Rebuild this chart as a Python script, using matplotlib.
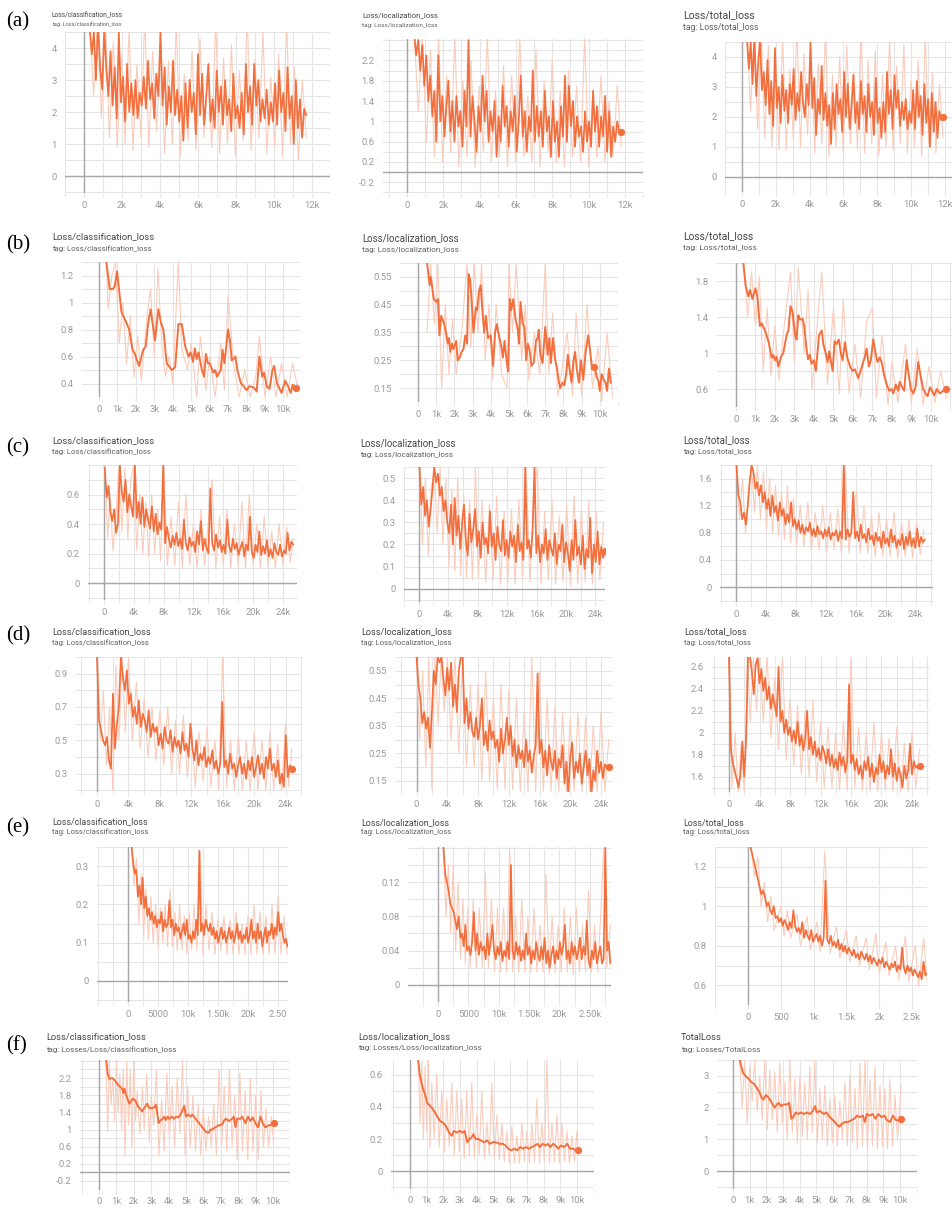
import numpy as np
import matplotlib.pyplot as plt
from matplotlib.ticker import MultipleLocator

plt.rcParams["font.family"] = ["Roboto", "DejaVu Sans"]

# ---------------- data ----------------
# dense panels: first/last logged step + values at evenly logged steps
a1_span = (300, 11700)
a1_loss = [4.6, 3.8, 4.5, 3.0, 4.8, 3.4, 2.7, 4.6, 3.3,
           2.5, 3.9, 2.2, 3.4, 1.8, 4.5, 2.3, 3.1, 1.7,
           3.5, 2.0, 2.9, 1.9, 3.0, 1.8, 2.6, 2.2, 3.1,
           2.1, 3.6, 2.4, 2.9, 1.8, 3.2, 2.5, 4.5, 2.2,
           3.4, 1.6, 2.8, 2.0, 3.6, 1.9, 2.7, 1.7, 2.5,
           1.1, 2.9, 1.5, 3.0, 2.0, 2.6, 1.3, 3.8, 1.9,
           3.2, 1.6, 2.5, 3.5, 1.7, 2.4, 1.5, 3.3, 2.0,
           2.8, 1.6, 3.0, 1.9, 2.4, 1.4, 3.2, 1.8, 2.2,
           1.5, 2.6, 1.3, 3.5, 2.0, 2.8, 1.6, 3.5, 2.2,
           3.0, 1.7, 2.4, 1.8, 2.7, 1.6, 2.3, 1.7, 2.9,
           1.6, 3.3, 2.0, 2.6, 1.4, 3.4, 1.8, 2.5, 1.0,
           3.0, 1.5, 2.4, 1.2, 2.1, 1.9]
a1_raw = [5.0, 2.5, 4.8, 1.8, 5.0, 1.2, 4.2, 0.9, 3.8, 1.0, 4.6, 0.8, 3.5, 1.2,
          5.0, 0.9, 3.9, 1.4, 4.4, 0.7, 3.6, 1.0, 4.8, 0.6, 3.2, 1.1, 3.9, 0.8,
          4.3, 1.2, 3.4, 0.9, 4.9, 0.7, 3.7, 1.0, 4.1, 0.6, 3.3, 1.1, 5.0, 0.8,
          3.6, 1.2, 4.5, 0.7, 3.1, 0.9, 3.8, 0.6, 4.9, 1.0, 3.4, 0.5, 3.0, 1.2]

a2_span = (400, 11800)
a2_loss = [2.7, 2.3, 2.6, 2.0, 2.5, 1.7, 2.3, 1.4,
           1.9, 1.1, 1.6, 0.6, 2.3, 1.0, 1.5, 0.7, 1.3,
           1.8, 0.8, 1.4, 0.6, 1.5, 0.9, 1.2, 0.5, 1.6,
           0.9, 2.6, 0.7, 1.5, 1.0, 0.4, 1.3, 0.8, 1.9,
           1.0, 1.6, 0.6, 1.2, 0.8, 1.4, 0.3, 1.1, 0.6,
           1.7, 0.9, 1.3, 0.5, 1.2, 0.8, 1.5, 0.4, 1.0,
           1.9, 0.7, 1.2, 0.4, 1.1, 0.8, 2.0, 0.6, 1.3,
           0.7, 1.2, 0.5, 1.6, 0.8, 1.1, 0.3, 1.4, 0.6,
           1.0, 0.3, 1.3, 0.7, 1.9, 0.6, 1.7, 0.9, 1.4,
           0.5, 1.1, 0.7, 0.9, 0.4, 1.2, 0.6, 1.0, 0.5,
           1.6, 0.8, 1.3, 0.5, 1.1, 0.7, 1.5, 0.4, 1.2,
           0.3, 0.9, 0.6, 1.0, 0.8, 0.8]
a2_raw = [2.7, 1.2, 2.7, 0.6, 2.4, 0.3, 2.7, 0.2, 1.9, 0.4, 2.7, 0.1, 1.8, 0.3,
          2.2, 0.1, 1.7, 0.4, 2.7, 0.2, 1.6, 0.3, 2.1, 0.1, 1.9, 0.2, 2.7, 0.3,
          1.5, 0.2, 2.4, 0.1, 1.8, 0.4, 2.2, 0.2, 1.6, 0.1, 2.0, 0.3, 1.7, 0.2,
          2.7, 0.1, 1.5, 0.3, 1.9, 0.2, 1.4, 0.3, 1.7, 0.5]

a3_span = (300, 11900)
a3_loss = [4.6, 3.6, 4.5, 3.1, 4.7, 2.7, 3.8, 4.6, 2.9,
           3.5, 2.4, 3.9, 2.1, 3.2, 1.7, 4.3, 2.3, 3.0,
           1.8, 3.4, 2.2, 2.9, 1.8, 3.1, 2.4, 3.6, 1.9,
           2.8, 2.2, 3.5, 2.5, 2.0, 3.1, 2.4, 4.5, 2.3,
           3.3, 1.4, 2.6, 2.1, 3.7, 1.9, 2.8, 1.7, 2.4,
           1.1, 2.8, 1.6, 3.1, 2.1, 2.6, 1.5, 3.5, 2.0,
           3.1, 1.6, 2.4, 3.4, 1.8, 2.5, 1.6, 3.2, 2.1,
           2.7, 1.5, 3.1, 2.0, 2.5, 1.4, 3.3, 1.8, 2.3,
           1.3, 2.5, 1.5, 3.5, 2.1, 2.9, 1.6, 3.4, 2.3,
           2.9, 1.7, 2.5, 1.9, 2.6, 1.6, 2.2, 1.8, 2.9,
           1.6, 3.2, 2.0, 2.7, 1.4, 3.1, 1.8, 2.6, 1.0,
           2.8, 1.5, 2.5, 1.3, 2.2, 1.9, 2.0]
a3_raw = [5.0, 2.2, 4.9, 1.6, 5.0, 1.3, 4.4, 1.0, 4.0, 0.9, 4.7, 0.9, 3.6, 1.3,
          5.0, 1.0, 4.1, 1.4, 4.3, 0.8, 3.8, 1.1, 4.9, 0.7, 3.4, 1.0, 4.0, 0.8,
          4.4, 1.1, 3.5, 0.9, 5.0, 0.8, 3.9, 1.1, 4.2, 0.7, 3.4, 1.0, 4.6, 0.9,
          3.7, 1.1, 4.4, 0.8, 3.2, 1.0, 3.9, 0.7, 4.7, 1.1, 3.5, 0.8, 3.1, 1.3]

# smoother panels: (step, value) pairs
b1_loss = [(400, 1.30), (580, 1.10), (760, 1.10), (850, 1.12), (980, 1.23), (1220, 0.93),
           (1490, 0.85), (1640, 0.80), (1820, 0.65), (1950, 0.62), (2040, 0.58), (2180, 0.53),
           (2400, 0.65), (2530, 0.67), (2670, 0.85), (2800, 0.95), (3040, 0.72), (3220, 0.95),
           (3360, 0.85), (3490, 0.80), (3670, 0.55), (3950, 0.50), (4130, 0.52), (4310, 0.84),
           (4490, 0.84), (4670, 0.68), (4850, 0.60), (4970, 0.63), (5100, 0.56), (5200, 0.66),
           (5300, 0.58), (5400, 0.63), (5580, 0.50), (5700, 0.45), (5800, 0.62), (5900, 0.55),
           (6000, 0.55), (6200, 0.48), (6300, 0.50), (6400, 0.45), (6600, 0.50), (6700, 0.65),
           (6800, 0.55), (7000, 0.80), (7100, 0.72), (7200, 0.57), (7400, 0.60), (7500, 0.50),
           (7700, 0.40), (7850, 0.38), (8000, 0.35), (8150, 0.38), (8400, 0.37), (8550, 0.34),
           (8700, 0.60), (8850, 0.45), (8950, 0.48), (9100, 0.38), (9250, 0.36), (9400, 0.50),
           (9500, 0.53), (9650, 0.40), (9800, 0.36), (9900, 0.33), (10100, 0.42), (10250, 0.38),
           (10400, 0.33), (10500, 0.39), (10700, 0.37)]
b1_raw = [(400, 1.30), (500, 0.95), (700, 1.20), (900, 1.30), (1100, 0.70), (1300, 1.00),
          (1500, 0.55), (1700, 0.90), (1900, 0.45), (2100, 0.75), (2300, 0.42), (2600, 0.90),
          (2800, 1.10), (3000, 0.60), (3200, 1.25), (3400, 0.70), (3600, 0.45), (3800, 0.60),
          (4000, 0.40), (4300, 1.30), (4500, 0.65), (4800, 0.50), (5000, 0.70), (5300, 0.30),
          (5500, 0.75), (5800, 0.35), (6000, 0.60), (6300, 0.30), (6600, 0.70), (6800, 0.35),
          (7000, 1.05), (7300, 0.55), (7600, 0.30), (7900, 0.50), (8200, 0.30), (8500, 0.45),
          (8700, 0.75), (9000, 0.30), (9300, 0.60), (9600, 0.30), (9900, 0.55), (10200, 0.30),
          (10500, 0.55), (10800, 0.35)]

b2_loss = [(500, 0.60), (640, 0.52), (700, 0.55), (870, 0.47), (1000, 0.46), (1100, 0.47),
           (1180, 0.34), (1270, 0.41), (1450, 0.38), (1640, 0.31), (1700, 0.33), (1780, 0.28),
           (1870, 0.31), (1950, 0.29), (2100, 0.32), (2180, 0.25), (2300, 0.26), (2400, 0.28),
           (2500, 0.29), (2600, 0.34), (2700, 0.31), (2780, 0.56), (2870, 0.54), (2960, 0.45),
           (3050, 0.35), (3180, 0.44), (3250, 0.43), (3360, 0.50), (3450, 0.52), (3550, 0.42),
           (3640, 0.35), (3730, 0.41), (3850, 0.33), (4000, 0.34), (4130, 0.23), (4240, 0.35),
           (4330, 0.38), (4450, 0.34), (4580, 0.30), (4670, 0.26), (4760, 0.32), (4870, 0.25),
           (4960, 0.21), (5050, 0.47), (5130, 0.43), (5240, 0.47), (5360, 0.40), (5490, 0.36),
           (5550, 0.31), (5640, 0.46), (5760, 0.38), (5850, 0.37), (5950, 0.25), (6040, 0.31),
           (6130, 0.29), (6240, 0.23), (6360, 0.24), (6490, 0.32), (6580, 0.33), (6640, 0.36),
           (6730, 0.27), (6850, 0.24), (7000, 0.37), (7130, 0.27), (7220, 0.33), (7310, 0.24),
           (7420, 0.33), (7550, 0.25), (7650, 0.22), (7730, 0.18), (7820, 0.15), (7950, 0.17),
           (8050, 0.16), (8150, 0.20), (8240, 0.27), (8330, 0.22), (8450, 0.17), (8550, 0.25),
           (8640, 0.28), (8730, 0.22), (8850, 0.17), (8960, 0.25), (9090, 0.18), (9220, 0.28),
           (9360, 0.34), (9490, 0.27), (9580, 0.22), (9730, 0.23), (9820, 0.19), (9910, 0.18),
           (10000, 0.14), (10100, 0.20), (10220, 0.18), (10310, 0.17), (10400, 0.14),
           (10500, 0.22), (10600, 0.17)]
b2_raw = [(500, 0.35), (700, 0.60), (900, 0.38), (1100, 0.60), (1300, 0.15), (1500, 0.45),
          (1700, 0.20), (1900, 0.40), (2100, 0.20), (2400, 0.35), (2700, 0.60), (2900, 0.30),
          (3100, 0.60), (3300, 0.35), (3500, 0.60), (3700, 0.25), (3900, 0.45), (4100, 0.18),
          (4300, 0.45), (4600, 0.20), (4900, 0.15), (5000, 0.60), (5200, 0.35), (5400, 0.60),
          (5700, 0.25), (5900, 0.45), (6100, 0.18), (6400, 0.35), (6700, 0.20), (7000, 0.60),
          (7200, 0.20), (7400, 0.42), (7700, 0.12), (8000, 0.25), (8200, 0.35), (8500, 0.12),
          (8700, 0.42), (9000, 0.12), (9300, 0.45), (9600, 0.15), (9900, 0.30), (10100, 0.10),
          (10400, 0.35), (10700, 0.12)]
b2_hover = (9700, 0.225)

b3_loss = [(380, 2.00), (500, 1.75), (630, 1.63), (720, 1.70), (850, 1.60), (1000, 1.72),
           (1100, 1.63), (1230, 1.30), (1320, 1.33), (1450, 1.27), (1570, 1.20), (1700, 1.10),
           (1830, 0.95), (1910, 0.98), (2000, 0.92), (2080, 0.96), (2170, 0.85), (2300, 0.95),
           (2430, 1.00), (2600, 1.20), (2690, 1.25), (2800, 1.52), (2910, 1.45), (3030, 1.20),
           (3110, 1.15), (3200, 1.42), (3280, 1.37), (3420, 1.38), (3500, 1.30), (3620, 1.05),
           (3700, 0.93), (3790, 0.98), (3880, 0.88), (4000, 0.92), (4100, 0.80), (4260, 1.20),
           (4400, 1.25), (4480, 1.10), (4600, 1.00), (4700, 0.90), (4790, 1.02), (4860, 0.92),
           (4960, 0.80), (5060, 1.13), (5170, 1.10), (5280, 1.15), (5380, 1.00), (5470, 0.92),
           (5590, 1.12), (5710, 0.95), (5850, 0.85), (5980, 0.80), (6100, 0.82), (6270, 0.72),
           (6360, 0.78), (6530, 0.90), (6610, 0.95), (6700, 1.05), (6820, 0.85), (6920, 0.92),
           (7040, 1.15), (7160, 1.00), (7260, 0.90), (7380, 0.95), (7470, 0.90), (7600, 0.75),
           (7730, 0.65), (7860, 0.58), (7980, 0.60), (8070, 0.55), (8200, 0.65), (8320, 0.58),
           (8400, 0.68), (8520, 0.62), (8630, 0.58), (8750, 0.92), (8870, 0.75), (8970, 0.60),
           (9100, 0.55), (9210, 0.62), (9350, 0.90), (9470, 0.75), (9600, 0.60), (9730, 0.55),
           (9830, 0.52), (9950, 0.62), (10070, 0.57), (10170, 0.53), (10300, 0.60),
           (10460, 0.55), (10630, 0.58), (10770, 0.60)]
b3_raw = [(400, 2.00), (600, 1.40), (800, 1.90), (1000, 1.30), (1200, 1.85), (1400, 0.80),
          (1600, 1.50), (1800, 0.75), (2000, 1.30), (2200, 0.70), (2500, 1.35), (2800, 1.90),
          (3000, 0.90), (3200, 1.95), (3500, 1.00), (3700, 1.70), (3900, 0.60), (4200, 1.40),
          (4400, 1.90), (4700, 0.65), (5000, 1.50), (5300, 0.55), (5500, 1.60), (5800, 0.55),
          (6100, 1.10), (6400, 0.50), (6700, 1.35), (7000, 1.50), (7200, 0.50), (7500, 1.20),
          (7800, 0.42), (8000, 0.90), (8300, 0.45), (8700, 1.10), (9000, 0.45), (9300, 1.05),
          (9600, 0.42), (9900, 0.85), (10200, 0.45), (10500, 0.80), (10800, 0.50)]

c1_span = (100, 25400)
c1_loss = [0.78, 0.58, 0.66, 0.48, 0.42, 0.50, 0.34, 0.40,
           0.80, 0.62, 0.55, 0.70, 0.48, 0.60, 0.52, 0.45,
           0.80, 0.44, 0.55, 0.40, 0.58, 0.38, 0.50, 0.43,
           0.37, 0.52, 0.35, 0.47, 0.33, 0.41, 0.36, 0.80,
           0.27, 0.38, 0.30, 0.24, 0.32, 0.26, 0.34, 0.25,
           0.30, 0.23, 0.43, 0.27, 0.22, 0.31, 0.25, 0.28,
           0.21, 0.35, 0.26, 0.42, 0.22, 0.30, 0.24, 0.20,
           0.64, 0.27, 0.22, 0.33, 0.24, 0.29, 0.21, 0.26,
           0.20, 0.43, 0.25, 0.21, 0.30, 0.23, 0.27, 0.19,
           0.24, 0.28, 0.18, 0.26, 0.22, 0.45, 0.21, 0.17,
           0.26, 0.21, 0.35, 0.19, 0.25, 0.20, 0.29, 0.18,
           0.23, 0.17, 0.27, 0.21, 0.19, 0.26, 0.18, 0.22,
           0.20, 0.34, 0.22, 0.28, 0.26]
c1_raw = [(100, 0.80), (500, 0.30), (800, 0.60), (1200, 0.22), (1600, 0.45), (2000, 0.80),
          (2400, 0.35), (2800, 0.78), (3200, 0.30), (3600, 0.70), (4000, 0.80), (4400, 0.22),
          (4800, 0.60), (5200, 0.20), (5600, 0.55), (6000, 0.18), (6400, 0.60), (6800, 0.20),
          (7200, 0.50), (7600, 0.15), (8000, 0.80), (8500, 0.12), (9000, 0.45), (9500, 0.12),
          (10000, 0.55), (10500, 0.10), (11000, 0.60), (11500, 0.12), (12000, 0.40),
          (12500, 0.10), (13000, 0.50), (13500, 0.12), (14000, 0.42), (14500, 0.70),
          (15000, 0.10), (15500, 0.45), (16000, 0.12), (16500, 0.50), (17000, 0.10),
          (17500, 0.40), (18000, 0.12), (18500, 0.55), (19000, 0.10), (19500, 0.60),
          (20000, 0.12), (20500, 0.40), (21000, 0.10), (21500, 0.45), (22000, 0.12),
          (22500, 0.35), (23000, 0.10), (23500, 0.40), (24000, 0.12), (24500, 0.38),
          (25000, 0.14), (25400, 0.30)]

c2_span = (100, 25300)
c2_loss = [0.55, 0.38, 0.46, 0.33, 0.40, 0.28, 0.36, 0.45,
           0.55, 0.48, 0.52, 0.42, 0.46, 0.35, 0.40, 0.30,
           0.25, 0.38, 0.20, 0.41, 0.24, 0.33, 0.18, 0.30,
           0.38, 0.22, 0.15, 0.34, 0.21, 0.27, 0.36, 0.19,
           0.26, 0.14, 0.30, 0.20, 0.23, 0.16, 0.35, 0.19,
           0.25, 0.13, 0.28, 0.20, 0.17, 0.31, 0.15, 0.22,
           0.14, 0.26, 0.19, 0.24, 0.12, 0.29, 0.17, 0.21,
           0.13, 0.55, 0.18, 0.22, 0.14, 0.27, 0.55, 0.16,
           0.24, 0.12, 0.20, 0.16, 0.27, 0.13, 0.22, 0.18,
           0.15, 0.25, 0.11, 0.20, 0.17, 0.29, 0.12, 0.21,
           0.16, 0.08, 0.22, 0.13, 0.31, 0.15, 0.19, 0.11,
           0.24, 0.09, 0.18, 0.14, 0.32, 0.07, 0.20, 0.12,
           0.26, 0.11, 0.19, 0.14, 0.17]
c2_raw = [(100, 0.55), (500, 0.20), (900, 0.50), (1300, 0.15), (1700, 0.45), (2100, 0.55),
          (2500, 0.25), (2900, 0.55), (3300, 0.20), (3700, 0.50), (4100, 0.10), (4500, 0.45),
          (4900, 0.08), (5300, 0.50), (5700, 0.06), (6100, 0.42), (6500, 0.05), (6900, 0.40),
          (7300, 0.04), (7700, 0.55), (8100, 0.05), (8600, 0.40), (9100, 0.03), (9600, 0.38),
          (10100, 0.04), (10600, 0.42), (11100, 0.02), (11600, 0.35), (12100, 0.03),
          (12600, 0.36), (13100, 0.02), (13600, 0.40), (14100, 0.04), (14600, 0.55),
          (15100, 0.03), (15600, 0.38), (16100, 0.55), (16600, 0.02), (17100, 0.35),
          (17600, 0.04), (18100, 0.40), (18600, 0.02), (19100, 0.33), (19600, 0.03),
          (20100, 0.38), (20600, 0.01), (21100, 0.42), (21600, 0.02), (22100, 0.36),
          (22600, 0.03), (23100, 0.40), (23600, 0.02), (24100, 0.35), (24600, 0.04),
          (25100, 0.30)]

c3_span = (100, 25200)
c3_loss = [1.80, 1.35, 1.25, 1.00, 1.10, 0.92, 1.20, 1.55,
           1.80, 1.70, 1.45, 1.55, 1.35, 1.50, 1.25, 1.40,
           1.15, 1.30, 1.05, 1.35, 1.10, 1.20, 0.98, 1.25,
           1.05, 1.15, 0.92, 1.08, 0.95, 1.25, 0.90, 1.00,
           0.85, 0.98, 0.80, 0.92, 0.78, 0.88, 0.82, 0.95,
           0.76, 0.86, 0.74, 0.90, 0.78, 0.82, 0.72, 0.85,
           0.75, 0.88, 0.70, 0.80, 0.76, 0.84, 0.68, 0.82,
           0.72, 1.80, 0.70, 0.85, 0.74, 0.80, 1.40, 0.72,
           0.82, 0.68, 0.92, 0.72, 0.78, 0.66, 0.86, 0.70,
           0.76, 0.62, 0.80, 0.68, 0.74, 0.58, 0.82, 0.64,
           0.72, 0.60, 0.85, 0.66, 0.76, 0.58, 0.70, 0.62,
           0.78, 0.56, 0.74, 0.62, 0.82, 0.60, 0.72, 0.58,
           0.86, 0.60, 0.74, 0.66, 0.70]
c3_raw = [(100, 1.80), (500, 1.00), (900, 1.60), (1300, 0.80), (1700, 1.40), (2100, 1.80),
          (2500, 1.10), (2900, 1.80), (3300, 1.00), (3700, 1.70), (4100, 0.85), (4500, 1.60),
          (4900, 0.80), (5300, 1.50), (5700, 0.75), (6100, 1.40), (6500, 0.70), (6900, 1.50),
          (7300, 0.65), (7700, 1.30), (8100, 0.60), (8600, 1.20), (9100, 0.60), (9600, 1.25),
          (10100, 0.55), (10600, 1.10), (11100, 0.55), (11600, 1.20), (12100, 0.50),
          (12600, 1.10), (13100, 0.55), (13600, 1.15), (14100, 0.50), (14600, 1.80),
          (15100, 0.50), (15600, 1.10), (16100, 1.40), (16600, 0.50), (17100, 1.20),
          (17600, 0.50), (18100, 1.05), (18600, 0.45), (19100, 1.10), (19600, 0.45),
          (20100, 1.00), (20600, 0.45), (21100, 1.10), (21600, 0.42), (22100, 0.95),
          (22600, 0.45), (23100, 1.00), (23600, 0.42), (24100, 0.95), (24600, 0.48),
          (25100, 0.85)]

d1_span = (0, 24800)
d1_loss = [1.00, 0.62, 0.56, 0.50, 0.47, 0.52, 0.38, 0.33,
           0.78, 0.45, 0.60, 0.70, 1.00, 0.88, 0.80, 0.92,
           0.72, 0.78, 0.64, 0.70, 0.60, 0.74, 0.58, 0.66,
           0.62, 0.55, 0.68, 0.52, 0.60, 0.55, 0.58, 0.47,
           0.54, 0.45, 0.58, 0.50, 0.48, 0.56, 0.43, 0.52,
           0.46, 0.50, 0.42, 0.55, 0.44, 0.48, 0.40, 0.60,
           0.45, 0.38, 0.50, 0.35, 0.42, 0.38, 0.46, 0.34,
           0.40, 0.36, 0.44, 0.33, 0.38, 0.30, 0.36, 0.73,
           0.34, 0.38, 0.30, 0.42, 0.33, 0.36, 0.28, 0.35,
           0.40, 0.30, 0.36, 0.27, 0.38, 0.32, 0.40, 0.28,
           0.34, 0.41, 0.30, 0.36, 0.27, 0.40, 0.33, 0.45,
           0.32, 0.36, 0.28, 0.38, 0.24, 0.30, 0.22, 0.53,
           0.28, 0.35, 0.33]
d1_raw = [(0, 1.00), (400, 0.50), (800, 0.80), (1200, 0.35), (1600, 0.70), (2000, 0.20),
          (2400, 0.95), (2800, 0.50), (3200, 1.00), (3600, 0.55), (4000, 1.00), (4500, 0.50),
          (5000, 0.85), (5500, 0.45), (6000, 0.75), (6500, 0.40), (7000, 0.70), (7500, 0.38),
          (8000, 0.68), (8500, 0.35), (9000, 0.70), (9500, 0.30), (10000, 0.62), (10500, 0.30),
          (11000, 0.65), (11500, 0.28), (12000, 0.60), (12500, 0.22), (13000, 0.55),
          (13500, 0.25), (14000, 0.58), (14500, 0.22), (15000, 0.50), (15500, 0.20),
          (16000, 1.00), (16500, 0.22), (17000, 0.50), (17500, 0.20), (18000, 0.52),
          (18500, 0.20), (19000, 0.50), (19500, 0.20), (20000, 0.55), (20500, 0.20),
          (21000, 0.50), (21500, 0.20), (22000, 0.55), (22500, 0.20), (23000, 0.48),
          (23500, 0.20), (24000, 0.60), (24400, 0.22), (24800, 0.45)]

d2_span = (0, 25000)
d2_loss = [0.60, 0.50, 0.45, 0.36, 0.40, 0.34, 0.38, 0.27,
           0.40, 0.55, 0.50, 0.60, 0.58, 0.60, 0.52, 0.46,
           0.56, 0.48, 0.58, 0.42, 0.50, 0.40, 0.55, 0.60,
           0.60, 0.36, 0.45, 0.34, 0.40, 0.33, 0.31, 0.38,
           0.30, 0.35, 0.45, 0.28, 0.33, 0.26, 0.37, 0.30,
           0.33, 0.27, 0.30, 0.22, 0.34, 0.25, 0.30, 0.38,
           0.28, 0.35, 0.24, 0.30, 0.20, 0.28, 0.23, 0.26,
           0.20, 0.30, 0.22, 0.26, 0.18, 0.24, 0.28, 0.54,
           0.25, 0.30, 0.20, 0.26, 0.17, 0.28, 0.22, 0.19,
           0.26, 0.16, 0.23, 0.20, 0.28, 0.14, 0.22, 0.10,
           0.24, 0.29, 0.16, 0.22, 0.18, 0.25, 0.14, 0.20,
           0.26, 0.17, 0.23, 0.10, 0.19, 0.15, 0.26, 0.18,
           0.22, 0.16, 0.21, 0.20, 0.20]
d2_raw = [(0, 0.60), (400, 0.30), (800, 0.55), (1200, 0.20), (1600, 0.60), (2000, 0.12),
          (2400, 0.60), (2800, 0.35), (3200, 0.60), (3600, 0.40), (4000, 0.60), (4500, 0.30),
          (5000, 0.60), (5500, 0.25), (6000, 0.60), (6500, 0.20), (7000, 0.50), (7500, 0.20),
          (8000, 0.50), (8500, 0.15), (9000, 0.55), (9500, 0.15), (10000, 0.45), (10500, 0.12),
          (11000, 0.50), (11500, 0.12), (12000, 0.48), (12500, 0.12), (13000, 0.45),
          (13500, 0.11), (14000, 0.40), (14500, 0.11), (15000, 0.60), (15500, 0.11),
          (16000, 0.55), (16500, 0.11), (17000, 0.45), (17500, 0.11), (18000, 0.42),
          (18500, 0.11), (19000, 0.40), (19500, 0.11), (20000, 0.38), (20500, 0.11),
          (21000, 0.40), (21500, 0.11), (22000, 0.38), (22500, 0.11), (23000, 0.35),
          (23500, 0.11), (24000, 0.40), (24500, 0.11), (25000, 0.30)]

d3_span = (0, 25000)
d3_loss = [2.70, 1.85, 1.72, 1.65, 1.58, 1.50, 1.62, 1.92,
           1.60, 1.95, 2.70, 2.70, 2.55, 2.35, 2.62, 2.68,
           2.45, 2.58, 2.38, 2.50, 2.30, 2.42, 2.22, 2.35,
           2.25, 2.15, 2.60, 2.10, 2.20, 2.00, 2.12, 1.98,
           2.05, 1.92, 2.02, 1.90, 2.10, 1.88, 1.98, 1.84,
           1.95, 2.20, 1.85, 1.96, 1.80, 1.92, 1.78, 1.86,
           1.75, 1.88, 1.82, 1.72, 1.85, 1.70, 1.80, 1.68,
           1.76, 1.66, 1.82, 1.70, 1.78, 1.64, 1.74, 2.44,
           1.72, 1.80, 1.66, 1.76, 1.62, 1.70, 1.58, 1.74,
           1.66, 1.78, 1.60, 1.72, 1.55, 1.68, 1.62, 1.80,
           1.64, 1.74, 1.58, 1.70, 1.62, 1.85, 1.60, 1.72,
           1.56, 1.68, 1.62, 1.50, 1.70, 1.58, 1.66, 1.90,
           1.62, 1.74, 1.68, 1.70, 1.70]
d3_raw = [(0, 2.70), (400, 1.50), (800, 2.00), (1200, 1.46), (1600, 1.90), (2000, 1.46),
          (2400, 2.70), (2800, 2.10), (3200, 2.70), (3600, 2.20), (4000, 2.70), (4500, 2.10),
          (5000, 2.70), (5500, 1.95), (6000, 2.50), (6500, 1.85), (7000, 2.70), (7500, 1.75),
          (8000, 2.30), (8500, 1.70), (9000, 2.25), (9500, 1.62), (10000, 2.20), (10500, 1.60),
          (11000, 2.30), (11500, 1.55), (12000, 2.10), (12500, 1.50), (13000, 2.05),
          (13500, 1.50), (14000, 2.00), (14500, 1.48), (15000, 2.10), (15500, 1.47),
          (16000, 2.70), (16500, 1.50), (17000, 2.05), (17500, 1.47), (18000, 2.00),
          (18500, 1.47), (19000, 2.10), (19500, 1.47), (20000, 2.00), (20500, 1.47),
          (21000, 1.95), (21500, 1.46), (22000, 2.05), (22500, 1.46), (23000, 1.90),
          (23500, 1.46), (24000, 2.00), (24500, 1.50), (25000, 1.85)]

e1_span = (600, 26600)
e1_loss = [0.35, 0.31, 0.28, 0.29, 0.22, 0.25, 0.20, 0.27,
           0.19, 0.22, 0.17, 0.19, 0.16, 0.18, 0.15, 0.17,
           0.14, 0.16, 0.15, 0.18, 0.13, 0.16, 0.14, 0.15,
           0.21, 0.14, 0.16, 0.12, 0.15, 0.13, 0.14, 0.11,
           0.13, 0.15, 0.12, 0.16, 0.11, 0.12, 0.10, 0.13,
           0.11, 0.16, 0.12, 0.34, 0.13, 0.15, 0.12, 0.16,
           0.14, 0.13, 0.15, 0.12, 0.14, 0.11, 0.13, 0.10,
           0.12, 0.14, 0.11, 0.13, 0.10, 0.12, 0.14, 0.11,
           0.13, 0.10, 0.12, 0.15, 0.11, 0.13, 0.10, 0.12,
           0.11, 0.14, 0.10, 0.12, 0.16, 0.11, 0.13, 0.10,
           0.15, 0.11, 0.13, 0.09, 0.12, 0.14, 0.10, 0.13,
           0.12, 0.15, 0.11, 0.14, 0.12, 0.18, 0.13, 0.15,
           0.12, 0.10, 0.11, 0.09]
e1_raw = [(600, 0.35), (1000, 0.25), (1400, 0.32), (1800, 0.15), (2200, 0.28), (2600, 0.12),
          (3000, 0.24), (3400, 0.11), (3800, 0.22), (4200, 0.10), (4600, 0.20), (5000, 0.09),
          (5400, 0.19), (5800, 0.10), (6200, 0.20), (6600, 0.09), (7000, 0.24), (7400, 0.09),
          (7800, 0.18), (8200, 0.08), (8600, 0.20), (9000, 0.08), (9400, 0.17), (9800, 0.07),
          (10200, 0.18), (10600, 0.08), (11000, 0.20), (11500, 0.08), (12000, 0.34),
          (12500, 0.07), (13000, 0.20), (13500, 0.08), (14000, 0.18), (14500, 0.07),
          (15000, 0.16), (15500, 0.08), (16000, 0.17), (16500, 0.07), (17000, 0.16),
          (17500, 0.07), (18000, 0.18), (18500, 0.07), (19000, 0.15), (19500, 0.07),
          (20000, 0.17), (20500, 0.07), (21000, 0.20), (21500, 0.07), (22000, 0.18),
          (22500, 0.07), (23000, 0.17), (23500, 0.07), (24000, 0.20), (24500, 0.07),
          (25000, 0.22), (25500, 0.07), (26000, 0.17), (26500, 0.07)]

e2_span = (900, 28400)
e2_loss = [0.16, 0.13, 0.12, 0.11, 0.095, 0.09, 0.085, 0.075,
           0.065, 0.08, 0.055, 0.06, 0.045, 0.07, 0.04, 0.045,
           0.035, 0.05, 0.085, 0.04, 0.06, 0.035, 0.05, 0.04,
           0.045, 0.03, 0.06, 0.035, 0.05, 0.07, 0.04, 0.03,
           0.045, 0.035, 0.05, 0.028, 0.04, 0.033, 0.05, 0.03,
           0.14, 0.04, 0.03, 0.05, 0.035, 0.045, 0.028, 0.04,
           0.03, 0.06, 0.035, 0.045, 0.025, 0.04, 0.03, 0.05,
           0.035, 0.028, 0.045, 0.03, 0.055, 0.025, 0.04, 0.02,
           0.035, 0.045, 0.025, 0.04, 0.03, 0.05, 0.035, 0.045,
           0.07, 0.03, 0.04, 0.025, 0.05, 0.035, 0.045, 0.03,
           0.04, 0.055, 0.03, 0.045, 0.035, 0.075, 0.03, 0.02,
           0.04, 0.03, 0.05, 0.025, 0.035, 0.045, 0.025, 0.03,
           0.16, 0.04, 0.05, 0.025]
e2_raw = [(900, 0.16), (1300, 0.08), (1700, 0.14), (2100, 0.06), (2500, 0.14), (2900, 0.04),
          (3300, 0.12), (3700, 0.03), (4100, 0.10), (4500, 0.025), (4900, 0.09), (5300, 0.02),
          (5800, 0.10), (6300, 0.02), (6800, 0.09), (7300, 0.02), (7800, 0.13), (8300, 0.02),
          (8800, 0.10), (9300, 0.015), (9800, 0.09), (10300, 0.015), (10800, 0.09),
          (11300, 0.015), (11800, 0.16), (12300, 0.015), (12800, 0.08), (13300, 0.015),
          (13800, 0.10), (14300, 0.015), (14800, 0.08), (15300, 0.015), (15800, 0.09),
          (16300, 0.015), (16800, 0.07), (17300, 0.015), (17800, 0.13), (18300, 0.012),
          (18800, 0.08), (19300, 0.015), (19800, 0.07), (20300, 0.015), (20800, 0.09),
          (21300, 0.015), (21800, 0.08), (22300, 0.012), (22800, 0.09), (23300, 0.015),
          (23800, 0.07), (24300, 0.015), (24800, 0.11), (25300, 0.015), (25800, 0.07),
          (26300, 0.015), (26800, 0.08), (27300, 0.16), (27800, 0.02), (28400, 0.07)]

e3_span = (40, 2730)
e3_loss = [1.30, 1.26, 1.22, 1.18, 1.14, 1.10, 1.06, 1.08,
           1.05, 1.00, 1.02, 0.98, 0.96, 1.00, 0.94, 0.95,
           0.92, 0.94, 0.90, 0.93, 0.91, 0.88, 0.92, 0.89,
           0.98, 0.90, 0.87, 0.89, 0.86, 0.92, 0.84, 0.88,
           0.85, 0.83, 0.88, 0.82, 0.84, 0.86, 0.82, 0.85,
           0.80, 0.84, 1.13, 0.83, 0.81, 0.85, 0.80, 0.82,
           0.79, 0.83, 0.78, 0.81, 0.77, 0.80, 0.76, 0.79,
           0.77, 0.75, 0.78, 0.74, 0.76, 0.73, 0.77, 0.75,
           0.73, 0.76, 0.72, 0.75, 0.71, 0.74, 0.72, 0.70,
           0.73, 0.71, 0.74, 0.69, 0.72, 0.70, 0.68, 0.71,
           0.69, 0.72, 0.67, 0.70, 0.68, 0.79, 0.69, 0.66,
           0.70, 0.67, 0.69, 0.65, 0.68, 0.66, 0.64, 0.67,
           0.63, 0.72, 0.65, 0.66]
e3_raw = [(40, 1.30), (100, 1.15), (150, 1.25), (200, 1.00), (250, 1.12), (300, 0.92),
          (350, 1.05), (400, 0.88), (500, 1.00), (550, 0.85), (600, 0.98), (650, 0.84),
          (750, 0.96), (800, 0.80), (900, 0.95), (950, 0.78), (1050, 0.92), (1100, 0.77),
          (1170, 1.28), (1250, 0.76), (1350, 0.90), (1400, 0.74), (1500, 0.88), (1550, 0.72),
          (1650, 0.85), (1700, 0.70), (1800, 0.84), (1850, 0.68), (1950, 0.86), (2000, 0.66),
          (2100, 0.82), (2150, 0.65), (2250, 0.80), (2300, 0.63), (2400, 0.85), (2450, 0.62),
          (2550, 0.80), (2600, 0.60), (2680, 0.84), (2730, 0.62)]

f1_loss = [(420, 2.60), (500, 2.30), (600, 2.18), (760, 2.20), (900, 2.15), (1080, 2.05),
           (1200, 2.00), (1330, 1.95), (1400, 1.85), (1470, 1.95), (1560, 1.80), (1750, 1.60),
           (1940, 1.72), (2080, 1.68), (2230, 1.55), (2420, 1.45), (2480, 1.42), (2600, 1.50),
           (2700, 1.55), (2760, 1.60), (2900, 1.50), (3080, 1.50), (3180, 1.52), (3280, 1.58),
           (3430, 1.15), (3500, 1.20), (3660, 1.25), (3750, 1.30), (3850, 1.22), (3940, 1.30),
           (4040, 1.25), (4190, 1.30), (4320, 1.25), (4420, 1.30), (4550, 1.28), (4700, 1.35),
           (4900, 1.55), (5000, 1.30), (5140, 1.35), (5280, 1.30), (5370, 1.35), (5560, 1.25),
           (5750, 1.15), (5940, 1.05), (6130, 0.95), (6290, 0.92), (6420, 1.00), (6520, 1.00),
           (6670, 1.05), (6900, 1.10), (7090, 1.12), (7180, 1.20), (7280, 1.25), (7470, 1.20),
           (7660, 1.25), (7750, 1.30), (7850, 1.05), (7940, 1.25), (8130, 1.25), (8230, 1.30),
           (8420, 1.15), (8570, 1.30), (8700, 1.20), (8840, 1.28), (8990, 1.15), (9140, 1.05),
           (9280, 1.30), (9410, 1.15), (9560, 1.05), (9750, 1.10), (9900, 1.10), (10040, 1.15)]
f1_raw = [(400, 2.6), (500, 0.95), (600, 2.6), (700, 1.6), (800, 2.2), (900, 1.2), (1000, 2.6),
          (1100, 1.4), (1200, 2.3), (1300, 1.0), (1400, 2.4), (1500, 0.4), (1600, 2.6),
          (1700, 1.1), (1800, 2.4), (1900, 0.6), (2000, 2.6), (2100, 1.2), (2200, 1.9),
          (2350, 0.9), (2500, 2.0), (2600, 1.0), (2750, 2.3), (2900, 0.7), (3000, 1.8),
          (3150, 1.1), (3300, 2.4), (3450, 0.4), (3600, 1.7), (3750, 0.5), (3900, 2.3),
          (4050, 0.8), (4200, 2.0), (4350, 0.6), (4500, 2.2), (4650, 0.9), (4800, 2.6),
          (4950, 0.4), (5100, 2.0), (5250, 0.6), (5400, 1.8), (5550, 0.5), (5700, 1.6),
          (5850, 0.4), (6000, 1.5), (6150, 0.5), (6300, 1.3), (6450, 0.6), (6600, 1.6),
          (6750, 0.4), (6900, 2.4), (7050, 0.6), (7200, 2.0), (7350, 0.5), (7500, 2.4),
          (7650, 0.6), (7800, 1.8), (7950, 0.3), (8100, 2.3), (8250, 0.5), (8400, 1.9),
          (8550, 0.3), (8700, 2.2), (8850, 0.5), (9000, 1.8), (9150, 0.3), (9300, 1.9),
          (9450, 0.6), (9600, 1.5), (9750, 0.6), (9900, 1.3), (10040, 0.7)]

f2_loss = [(470, 0.70), (580, 0.60), (750, 0.52), (890, 0.48), (1050, 0.42), (1170, 0.41),
           (1330, 0.39), (1520, 0.36), (1680, 0.33), (1820, 0.31), (1990, 0.30), (2150, 0.28),
           (2340, 0.24), (2500, 0.22), (2620, 0.25), (2800, 0.24), (2970, 0.25), (3150, 0.24),
           (3270, 0.25), (3430, 0.18), (3550, 0.20), (3690, 0.21), (3790, 0.23), (3930, 0.20),
           (4090, 0.20), (4250, 0.19), (4440, 0.18), (4630, 0.19), (4790, 0.17), (4950, 0.18),
           (5140, 0.18), (5370, 0.17), (5560, 0.17), (5720, 0.16), (5890, 0.14), (6070, 0.13),
           (6260, 0.14), (6430, 0.13), (6590, 0.15), (6780, 0.14), (6940, 0.15), (7130, 0.14),
           (7290, 0.15), (7480, 0.16), (7640, 0.17), (7780, 0.15), (7940, 0.17), (8100, 0.16),
           (8250, 0.17), (8410, 0.15), (8570, 0.17), (8710, 0.16), (8880, 0.14), (9040, 0.16),
           (9230, 0.15), (9420, 0.17), (9580, 0.14), (9770, 0.14), (9930, 0.13), (10090, 0.13)]
f2_raw = [(500, 0.70), (600, 0.30), (700, 0.68), (800, 0.20), (900, 0.65), (1000, 0.25),
          (1100, 0.70), (1200, 0.15), (1300, 0.55), (1450, 0.20), (1600, 0.60), (1750, 0.15),
          (1900, 0.50), (2050, 0.12), (2200, 0.45), (2350, 0.15), (2500, 0.55), (2650, 0.10),
          (2800, 0.50), (2950, 0.12), (3100, 0.45), (3250, 0.08), (3400, 0.50), (3550, 0.10),
          (3700, 0.55), (3850, 0.08), (4000, 0.35), (4150, 0.10), (4300, 0.50), (4450, 0.08),
          (4600, 0.30), (4750, 0.10), (4900, 0.55), (5050, 0.08), (5200, 0.35), (5350, 0.07),
          (5500, 0.30), (5650, 0.06), (5800, 0.25), (5950, 0.05), (6100, 0.28), (6250, 0.05),
          (6400, 0.22), (6550, 0.05), (6700, 0.30), (6850, 0.06), (7000, 0.25), (7150, 0.05),
          (7300, 0.30), (7450, 0.06), (7600, 0.45), (7750, 0.05), (7900, 0.30), (8050, 0.06),
          (8200, 0.70), (8350, 0.05), (8500, 0.30), (8650, 0.06), (8800, 0.35), (8950, 0.05),
          (9100, 0.30), (9250, 0.06), (9400, 0.25), (9550, 0.05), (9700, 0.22), (9850, 0.06),
          (10000, 0.25), (10090, 0.10)]

f3_loss = [(400, 3.50), (590, 3.10), (750, 3.00), (940, 2.90), (1100, 2.80), (1260, 2.75),
           (1450, 2.60), (1570, 2.50), (1730, 2.30), (1800, 2.25), (1970, 2.40), (2150, 2.30),
           (2320, 2.15), (2500, 2.00), (2620, 2.10), (2740, 2.15), (2860, 2.05), (3040, 2.10),
           (3210, 2.10), (3370, 2.15), (3490, 1.65), (3610, 1.70), (3750, 1.85), (3910, 1.80),
           (4070, 1.85), (4260, 1.80), (4430, 1.85), (4610, 1.80), (4780, 1.90), (4920, 2.05),
           (5010, 1.85), (5200, 1.90), (5430, 1.80), (5600, 1.85), (5710, 1.75), (5900, 1.65),
           (6090, 1.55), (6250, 1.45), (6370, 1.40), (6530, 1.50), (6720, 1.55), (6890, 1.55),
           (7070, 1.60), (7260, 1.65), (7420, 1.75), (7590, 1.70), (7780, 1.75), (7890, 1.55),
           (8010, 1.80), (8200, 1.75), (8360, 1.80), (8530, 1.65), (8710, 1.80), (8900, 1.70),
           (9060, 1.75), (9230, 1.60), (9410, 1.55), (9580, 1.75), (9770, 1.60), (9930, 1.60),
           (10070, 1.65)]
f3_raw = [(400, 3.5), (550, 2.0), (700, 3.5), (850, 1.5), (1000, 3.3), (1150, 2.2), (1300, 3.5),
          (1450, 1.9), (1600, 3.0), (1750, 1.6), (1900, 3.5), (2050, 1.3), (2200, 3.2),
          (2350, 1.6), (2500, 3.1), (2650, 1.2), (2800, 3.4), (2950, 1.5), (3100, 2.8),
          (3250, 1.0), (3400, 3.5), (3550, 1.2), (3700, 2.9), (3850, 0.9), (4000, 3.0),
          (4150, 1.1), (4300, 2.8), (4450, 1.0), (4600, 3.3), (4750, 1.2), (4900, 3.5),
          (5050, 0.9), (5200, 2.6), (5350, 1.0), (5500, 2.7), (5650, 0.8), (5800, 2.3),
          (5950, 0.9), (6100, 2.4), (6250, 0.8), (6400, 2.2), (6550, 1.0), (6700, 2.8),
          (6850, 0.8), (7000, 3.0), (7150, 0.9), (7300, 2.6), (7450, 0.7), (7600, 3.4),
          (7750, 0.8), (7900, 3.5), (8050, 0.7), (8200, 2.9), (8350, 0.8), (8500, 3.3),
          (8650, 0.7), (8800, 2.7), (8950, 0.8), (9100, 2.6), (9250, 0.7), (9400, 2.9),
          (9550, 0.8), (9700, 2.4), (9850, 1.0), (10070, 2.7)]

# tick values / labels
k2_ticks = [0, 2000, 4000, 6000, 8000, 10000, 12000]
k2_labels = ["0", "2k", "4k", "6k", "8k", "10k", "12k"]
k1_ticks = [0, 1000, 2000, 3000, 4000, 5000, 6000, 7000, 8000, 9000, 10000]
k1_labels = ["0", "1k", "2k", "3k", "4k", "5k", "6k", "7k", "8k", "9k", "10k"]
k4_ticks = [0, 4000, 8000, 12000, 16000, 20000, 24000]
k4_labels = ["0", "4k", "8k", "12k", "16k", "20k", "24k"]
k5_ticks = [0, 5000, 10000, 15000, 20000, 25000]
e1_xlabels = ["0", "5000", "10k", "1.50k", "20k", "2.50"]
e2_xlabels = ["0", "5000", "10k", "1.50k", "20k", "2.50k"]
e3_xticks = [0, 500, 1000, 1500, 2000, 2500]
e3_xlabels = ["0", "500", "1k", "1.5k", "2k", "2.5k"]

CLS = ("Loss/classification_loss", "tag: Loss/classification_loss")
LOC = ("Loss/localization_loss", "tag: Loss/localization_loss")
TOT = ("Loss/total_loss", "tag: Loss/total_loss")

# ---------------- drawing ----------------
W, H = 952, 1210
LINE = "#f36f3d"
RAW = "#f9cdbd"
GRID = "#e5e5e5"
ZERO = "#a6a6a6"
TICKC = "#9b9b9b"


def pairs(p):
    xs, ys = zip(*p)
    return np.array(xs, float), np.array(ys, float)


def spread(span, vals):
    return np.linspace(span[0], span[1], len(vals)), np.array(vals, float)


def panel(fig, box, line, raw, xlim, ylim, yticks, ygrid, xticks, xlabels, xgrid,
          names, tpos, tsize, dot=True, lw=1.25, hover=None, xpad=3):
    l, t, r, b = box
    ax = fig.add_axes([l / W, 1 - b / H, (r - l) / W, (b - t) / H])
    ax.plot(raw[0], raw[1], color=RAW, lw=0.8, zorder=2)
    ax.plot(line[0], line[1], color=LINE, lw=lw, zorder=3)
    if dot:
        ax.plot(line[0][-1], line[1][-1], "o", ms=4.2, color=LINE, zorder=4)
    if hover is not None:
        ax.plot(hover[0], hover[1], "o", ms=4.2, color=LINE, zorder=4)
    ax.set_xlim(*xlim)
    ax.set_ylim(*ylim)
    ax.set_yticks(yticks)
    ax.set_yticklabels([f"{v:g}" for v in yticks])
    ax.set_xticks(xticks)
    ax.set_xticklabels(xlabels)
    ax.xaxis.set_minor_locator(MultipleLocator(xgrid))
    ax.yaxis.set_minor_locator(MultipleLocator(ygrid))
    ax.grid(True, which="both", color=GRID, lw=0.8, zorder=0)
    ax.set_axisbelow(True)
    if ylim[0] < 0:
        ax.axhline(0, color=ZERO, lw=1.0, zorder=1)
    ax.axvline(0, color=ZERO, lw=1.0, zorder=1)
    for s in ax.spines.values():
        s.set_visible(False)
    ax.tick_params(axis="y", which="both", length=0, pad=6, labelsize=6.8, labelcolor=TICKC)
    ax.tick_params(axis="x", which="both", length=3, color=GRID, pad=xpad,
                   labelsize=6.8, labelcolor=TICKC)
    x0, ty, gy = tpos
    fig.text(x0 / W, 1 - ty / H, names[0], fontsize=tsize[0], color="#454545",
             va="center", ha="left")
    fig.text(x0 / W, 1 - gy / H, names[1], fontsize=tsize[1], color="#5f5f5f",
             va="center", ha="left")
    return ax


fig = plt.figure(figsize=(W / 100, H / 100), dpi=100)

# row (a)
panel(fig, (65, 32, 330, 193), spread(a1_span, a1_loss), spread(a1_span, a1_raw),
      (-1000, 12950), (-0.53, 4.5), [0, 1, 2, 3, 4], 0.5, k2_ticks, k2_labels, 1000,
      CLS, (52, 16, 24), (4.8, 4.0), dot=False)
panel(fig, (383, 39, 643, 193), spread(a2_span, a2_loss), spread(a2_span, a2_raw),
      (-1320, 13000), (-0.41, 2.62), [-0.2, 0.2, 0.6, 1.0, 1.4, 1.8, 2.2], 0.2,
      k2_ticks, k2_labels, 1000, LOC, (362, 15, 25), (5.5, 4.6))
panel(fig, (725, 42, 952, 192), spread(a3_span, a3_loss), spread(a3_span, a3_raw),
      (-1000, 12430), (-0.5, 4.5), [0, 1, 2, 3, 4], 0.5, k2_ticks, k2_labels, 1000,
      TOT, (683, 15, 28), (7.6, 6.2))

# row (b)
panel(fig, (82, 262, 300, 397), pairs(b1_loss), pairs(b1_raw),
      (-920, 10900), (0.3, 1.3), [0.4, 0.6, 0.8, 1.0, 1.2], 0.1, k1_ticks, k1_labels, 1000,
      CLS, (52, 237, 249), (6.8, 5.7), lw=1.4)
panel(fig, (400, 263, 618, 402), pairs(b2_loss), pairs(b2_raw),
      (-990, 11000), (0.1, 0.6), [0.15, 0.25, 0.35, 0.45, 0.55], 0.05, k1_ticks, k1_labels,
      1000, LOC, (362, 238, 250), (7.0, 5.9), dot=False, lw=1.4, hover=b2_hover)
panel(fig, (717, 263, 952, 407), pairs(b3_loss), pairs(b3_raw),
      (-970, 11080), (0.4, 2.0), [0.6, 1.0, 1.4, 1.8], 0.2, k1_ticks, k1_labels, 1000,
      TOT, (683, 236, 248), (7.4, 6.0), lw=1.4)

# row (c)
panel(fig, (88, 465, 297, 600), spread(c1_span, c1_loss), pairs(c1_raw),
      (-2150, 25900), (-0.115, 0.8), [0, 0.2, 0.4, 0.6], 0.1, k4_ticks, k4_labels, 2000,
      CLS, (52, 441, 452), (6.8, 5.6), dot=False)
panel(fig, (404, 467, 605, 602), spread(c2_span, c2_loss), pairs(c2_raw),
      (-2000, 25300), (-0.06, 0.55), [0, 0.1, 0.2, 0.3, 0.4, 0.5], 0.05, k4_ticks,
      k4_labels, 2000, LOC, (360, 443, 455), (6.9, 5.7))
panel(fig, (720, 465, 933, 602), spread(c3_span, c3_loss), pairs(c3_raw),
      (-2100, 26300), (-0.22, 1.8), [0, 0.4, 0.8, 1.2, 1.6], 0.2, k4_ticks, k4_labels,
      2000, TOT, (683, 440, 452), (7.0, 5.7), dot=False)

# row (d)
panel(fig, (76, 657, 302, 792), spread(d1_span, d1_loss), pairs(d1_raw),
      (-2680, 26100), (0.19, 1.0), [0.3, 0.5, 0.7, 0.9], 0.1, k4_ticks, k4_labels, 2000,
      CLS, (52, 632, 643), (6.6, 5.5))
panel(fig, (395, 657, 613, 792), spread(d2_span, d2_loss), pairs(d2_raw),
      (-2800, 25560), (0.11, 0.60), [0.15, 0.25, 0.35, 0.45, 0.55], 0.05, k4_ticks,
      k4_labels, 2000, LOC, (361, 632, 643), (6.6, 5.5))
panel(fig, (712, 657, 929, 792), spread(d3_span, d3_loss), pairs(d3_raw),
      (-2230, 26230), (1.46, 2.69), [1.6, 1.8, 2.0, 2.2, 2.4, 2.6], 0.1, k4_ticks,
      k4_labels, 2000, TOT, (684, 632, 643), (6.6, 5.5))

# row (e)
panel(fig, (97, 847, 288, 1002), spread(e1_span, e1_loss), pairs(e1_raw),
      (-5170, 26670), (-0.055, 0.35), [0, 0.1, 0.2, 0.3], 0.05, k5_ticks, e1_xlabels, 2500,
      CLS, (52, 822, 832), (6.4, 5.4), dot=False)
panel(fig, (408, 847, 611, 1002), spread(e2_span, e2_loss), pairs(e2_raw),
      (-4950, 28500), (-0.02, 0.161), [0, 0.04, 0.08, 0.12], 0.02, k5_ticks, e2_xlabels,
      2500, LOC, (361, 823, 833), (6.4, 5.4), dot=False)
panel(fig, (715, 847, 927, 1005), spread(e3_span, e3_loss), pairs(e3_raw),
      (-503, 2729), (0.5, 1.3), [0.6, 0.8, 1.0, 1.2], 0.1, e3_xticks, e3_xlabels, 500,
      TOT, (683, 823, 833), (6.4, 5.4), dot=False)

# row (f)
panel(fig, (80, 1060, 290, 1190), pairs(f1_loss), pairs(f1_raw),
      (-1090, 10980), (-0.41, 2.62), [-0.2, 0.2, 0.6, 1.0, 1.4, 1.8, 2.2], 0.2, k1_ticks,
      k1_labels, 1000, ("Loss/classification_loss", "tag: Losses/Loss/classification_loss"),
      (46, 1037, 1050), (6.7, 5.8), lw=1.4, xpad=2)
panel(fig, (391, 1060, 594, 1189), pairs(f2_loss), pairs(f2_raw),
      (-1140, 11020), (-0.11, 0.69), [0, 0.2, 0.4, 0.6], 0.1, k1_ticks, k1_labels, 1000,
      ("Loss/localization_loss", "tag: Losses/Loss/localization_loss"),
      (358, 1037, 1048), (6.7, 5.8), lw=1.4, xpad=2)
panel(fig, (717, 1060, 917, 1189), pairs(f3_loss), pairs(f3_raw),
      (-960, 11020), (-0.56, 3.5), [0, 1, 2, 3], 0.5, k1_ticks, k1_labels, 1000,
      ("TotalLoss", "tag: Losses/TotalLoss"), (681, 1038, 1050), (6.7, 5.8), lw=1.4, xpad=2)

for lab, (x, y) in zip(["(a)", "(b)", "(c)", "(d)", "(e)", "(f)"],
                       [(6, 22), (6, 245), (6, 448), (6, 636), (6, 828), (6, 1046)]):
    fig.text(x / W, 1 - y / H, lab, fontsize=15, family="Liberation Serif",
             va="center", ha="left", color="black")

fig.savefig("out.png", dpi=100, facecolor="white")
